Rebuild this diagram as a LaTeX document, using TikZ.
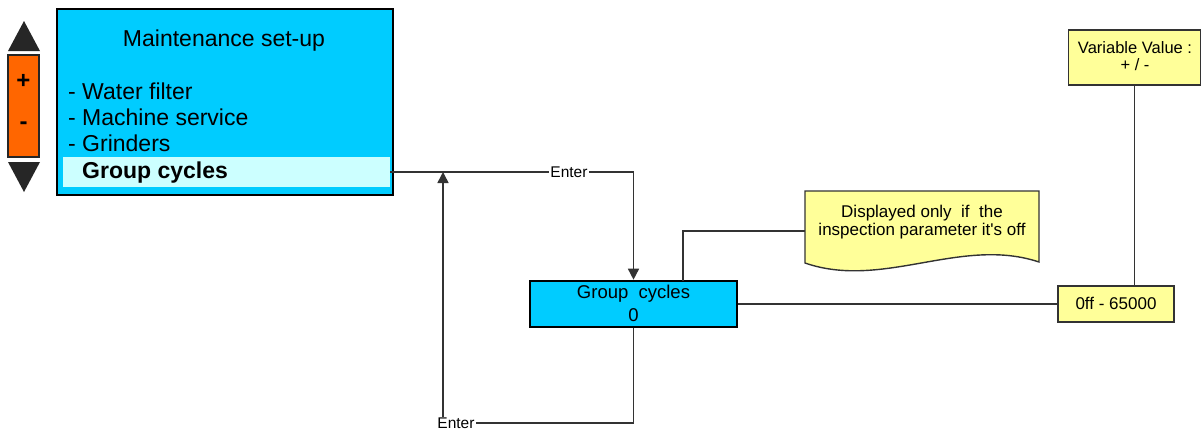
\documentclass[tikz,border=0pt]{standalone}
\usepackage{fontspec}
\setmainfont{Liberation Sans}
\usetikzlibrary{arrows.meta}
\definecolor{cyanbox}{HTML}{00CCFF}
\definecolor{hilite}{HTML}{CCFFFF}
\definecolor{note}{HTML}{FFFF99}
\definecolor{btn}{HTML}{FF6600}
\definecolor{tri}{HTML}{262626}
\definecolor{conn}{HTML}{333333}
\tikzset{
  connline/.style={draw=conn, line width=1.5pt},
  tipped/.style={-{Triangle[width=11pt,length=11pt]}},
  bluebox/.style={draw=black, fill=cyanbox, line width=2.6pt, inner sep=0pt},
  yellowbox/.style={draw=conn, fill=note, line width=1.4pt, inner sep=0pt},
  lbl/.style={fill=white, inner sep=1pt, font=\fontsize{15.5}{18}\selectfont},
  bigtxt/.style={inner sep=0pt, font=\fontsize{23}{26}\selectfont},
}
\begin{document}
\begin{tikzpicture}[x=1pt,y=-1pt]
\useasboundingbox (0,0) rectangle (1202,432);
% main menu box
\node[bluebox, minimum width=336pt, minimum height=186pt] (menu) at (225,102) {};
\node[fill=hilite, inner sep=0pt, minimum width=327pt, minimum height=30pt] (hl) at (226.5,172) {};
\node[bigtxt, anchor=base] (title) at (224,46) {Maintenance set-up};
\node[bigtxt, anchor=base west] (m1) at (68,99) {- Water filter};
\node[bigtxt, anchor=base west] (m2) at (68,125) {- Machine service};
\node[bigtxt, anchor=base west] (m3) at (68,151) {- Grinders};
\node[bigtxt, anchor=base west, font=\fontsize{23}{26}\selectfont\bfseries] (m4) at (82,178) {Group cycles};
% buttons
\fill[tri] (8,51) -- (24,21) -- (40,51) -- cycle;
\fill[tri] (8,162) -- (24,192) -- (40,162) -- cycle;
\node[draw=tri, fill=btn, line width=1.5pt, minimum width=31pt, minimum height=102pt, inner sep=0pt] (pm) at (23.5,106) {};
\node[bigtxt, font=\fontsize{24}{26}\selectfont\bfseries] (plus) at (23.5,81) {+};
\node[bigtxt, font=\fontsize{24}{26}\selectfont\bfseries] (minus) at (23.5,126) {-};
% group cycles box
\node[bluebox, minimum width=207pt, minimum height=46pt] (grp) at (633.5,304) {};
\node[inner sep=0pt, anchor=base, font=\fontsize{18.5}{21}\selectfont] (g1) at (633.5,298) {Group\ \ cycles};
\node[inner sep=0pt, anchor=base, font=\fontsize{18.5}{21}\selectfont] (g2) at (633.5,321) {0};
% value boxes
\node[yellowbox, minimum width=116pt, minimum height=36pt] (off) at (1116,304) {};
\node[inner sep=0pt, anchor=base, font=\fontsize{17}{20}\selectfont] (offt) at (1116,309) {0ff - 65000};
\node[yellowbox, minimum width=132pt, minimum height=55pt] (var) at (1134.5,57.5) {};
\node[inner sep=0pt, anchor=base, font=\fontsize{16.5}{19}\selectfont] (v1) at (1135,53) {Variable Value :};
\node[inner sep=0pt, anchor=base, font=\fontsize{16.5}{19}\selectfont] (v2) at (1135,70) {+ / -};
% note
\path[yellowbox] (805,191) -- (1039,191) -- (1039,262) .. controls (961,236) and (883,290) .. (805,263) -- cycle;
\node[inner sep=0pt, anchor=base, font=\fontsize{17}{20}\selectfont] (n1) at (922,217) {Displayed only\ \ if\ \ the};
\node[inner sep=0pt, anchor=base, font=\fontsize{17}{20}\selectfont] (n2) at (922,235) {inspection parameter it\textquotesingle s off};
\coordinate (gtop) at (683,281);
\coordinate (noteL) at (805,231);
\coordinate (cL) at (443,423);
\coordinate (cT) at (443,172);
% connectors
\draw[connline, tipped] (hl.east) -| (grp.north);
\node[lbl] (e1) at (569,172) {Enter};
\draw[connline, tipped] (grp.south) |- (cL) -- (cT);
\node[lbl] (e2) at (456,423) {Enter};
\draw[connline] (gtop) |- (noteL);
\draw[connline] (grp.east) -- (off.west);
\draw[connline] (var.south) -- (var.south |- off.north);
\end{tikzpicture}
\end{document}
